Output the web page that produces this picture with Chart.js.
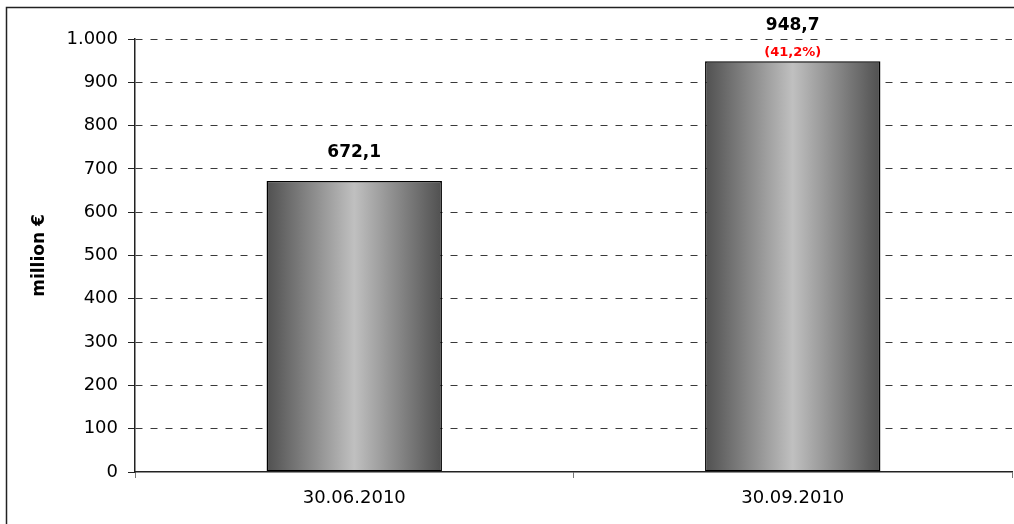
<!DOCTYPE html>
<html>
<head>
<meta charset="utf-8">
<script src="https://cdn.jsdelivr.net/npm/chart.js@4"></script>
<style>
  html, body { margin: 0; padding: 0; background: #fff; }
  #wrap { width: 1014px; height: 524px; position: relative; }
</style>
</head>
<body>
<div id="wrap"><canvas id="volumeChart"></canvas></div>
<script>
// values
const dates = ["30.06.2010", "30.09.2010"];
const volumes = [672.1, 948.7];
const valueLabels = ["672,1", "948,7"];
const changeLabels = ["", "(41,2%)"];
const yTicks = [0, 100, 200, 300, 400, 500, 600, 700, 800, 900, 1000];

const FONT = "'DejaVu Sans', sans-serif";

function fmtThousands(v) {
  return String(v).replace(/\B(?=(\d{3})+(?!\d))/g, ".");
}

function barGradient(context) {
  const chart = context.chart;
  const xs = chart.scales.x;
  if (!chart.chartArea || !xs) return "#999";
  const cx = xs.getPixelForValue(context.dataIndex);
  const half = (xs.width / dates.length) * 0.4 / 2;
  const g = chart.ctx.createLinearGradient(cx - half, 0, cx + half, 0);
  g.addColorStop(0, "#505050");
  g.addColorStop(0.5, "#c0c0c0");
  g.addColorStop(1, "#505050");
  return g;
}

// outer frame (only top and left edges are visible in the crop)
const framePlugin = {
  id: "frame",
  beforeDraw(chart) {
    const ctx = chart.ctx;
    ctx.save();
    ctx.strokeStyle = "#222";
    ctx.lineWidth = 1.5;
    ctx.strokeRect(6.5, 7.5, chart.width + 20, chart.height + 20);
    ctx.restore();
  }
};

// value labels above the bars
const labelPlugin = {
  id: "barLabels",
  afterDatasetsDraw(chart) {
    const ctx = chart.ctx;
    const meta = chart.getDatasetMeta(0);
    ctx.save();
    ctx.textAlign = "center";
    ctx.textBaseline = "middle";
    meta.data.forEach((bar, i) => {
      ctx.font = "bold 17px " + FONT;
      ctx.fillStyle = "#000";
      if (changeLabels[i]) {
        ctx.fillText(valueLabels[i], bar.x, bar.y - 36);
        ctx.font = "bold 13px " + FONT;
        ctx.fillStyle = "#ff0000";
        ctx.fillText(changeLabels[i], bar.x, bar.y - 9);
      } else {
        ctx.fillText(valueLabels[i], bar.x, bar.y - 28);
      }
    });
    ctx.restore();
  }
};

new Chart(document.getElementById("volumeChart"), {
  type: "bar",
  data: {
    labels: dates,
    datasets: [
      {
        label: "million €",
        data: volumes,
        backgroundColor: barGradient,
        borderColor: "#000000",
        borderWidth: 1.5,
        borderSkipped: false,
        categoryPercentage: 1,
        barPercentage: 0.4,
      },
    ],
  },
  options: {
    responsive: true,
    maintainAspectRatio: false,
    animation: false,
    layout: { padding: { top: 39, right: 2, left: 0, bottom: 0 } },
    plugins: {
      legend: { display: false },
      tooltip: { enabled: false },
    },
    scales: {
      x: {
        grid: {
          offset: true,
          drawOnChartArea: false,
          drawTicks: true,
          tickLength: 6,
          tickColor: "#777",
        },
        border: { color: "#222", width: 1.5, z: 1 },
        ticks: {
          color: "#000",
          padding: 10,
          font: { family: FONT, size: 18 },
          maxRotation: 0,
        },
        afterFit(scale) { scale.height = 52; },
      },
      y: {
        min: 0,
        max: 1000,
        afterBuildTicks(scale) {
          scale.ticks = yTicks.map(v => ({ value: v }));
        },
        grid: {
          color: c => (c.tick && c.tick.value === 0 ? "rgba(0,0,0,0)" : "#3a3a3a"),
          lineWidth: 1,
          tickLength: 7,
          tickColor: "#222",
          tickBorderDash: [],
          drawTicks: true,
        },
        border: { color: "#222", width: 1.5, dash: [7, 8] },
        ticks: {
          color: "#000",
          padding: 10,
          font: { family: FONT, size: 18 },
          callback: v => fmtThousands(v),
        },
        title: {
          display: true,
          text: "million €",
          color: "#000",
          font: { family: FONT, size: 17, weight: "bold" },
          padding: { top: 29, bottom: 0 },
        },
        afterFit(scale) { scale.width = 135; },
      },
    },
  },
  plugins: [framePlugin, labelPlugin],
});
</script>
</body>
</html>
